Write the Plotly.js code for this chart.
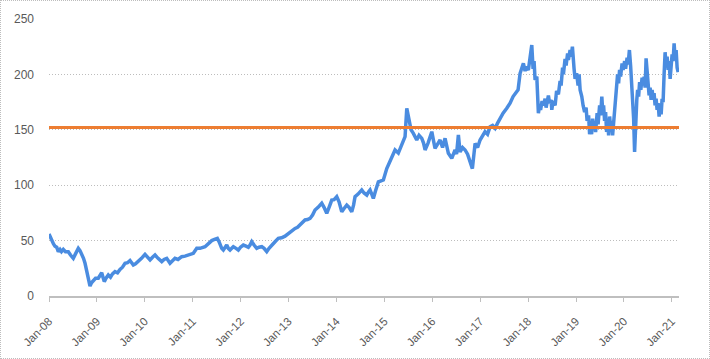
<!DOCTYPE html>
<html>
<head>
<meta charset="utf-8">
<script src="https://cdn.plot.ly/plotly-3.0.1.min.js"></script>
<style>
  html, body { margin: 0; padding: 0; background: #fff; }
  #wrap { position: relative; width: 710px; height: 359px; }
  #chart { position: absolute; left: 0; top: 0; width: 710px; height: 359px; }
  #frame { position: absolute; left: 0; top: 0; width: 710px; height: 359px; box-sizing: border-box; border: 1px dotted #bdbdbd; pointer-events: none; }
</style>
</head>
<body>
<div id="wrap"><div id="chart"></div><div id="frame"></div></div>
<script>
// Time in decimal years (2008.0 = Jan-08)
const years = [
 2008.000,2008.031,2008.056,2008.094,2008.125,2008.161,2008.194,2008.230,2008.261,2008.299,
 2008.344,2008.403,2008.449,2008.507,2008.553,2008.612,2008.647,2008.683,2008.720,2008.752,
 2008.783,2008.808,2008.835,2008.856,2008.887,2008.925,2008.971,2009.029,2009.065,2009.100,
 2009.127,2009.154,2009.190,2009.238,2009.284,2009.326,2009.378,2009.430,2009.482,2009.534,
 2009.587,2009.639,2009.691,2009.727,2009.760,2009.806,2009.864,2009.931,2010.004,2010.056,
 2010.109,2010.161,2010.213,2010.276,2010.353,2010.401,2010.457,2010.526,2010.578,2010.630,
 2010.693,2010.770,2010.839,2010.908,2010.965,2011.013,2011.084,2011.152,2011.257,2011.319,
 2011.397,2011.455,2011.514,2011.549,2011.570,2011.605,2011.639,2011.674,2011.710,2011.743,
 2011.779,2011.814,2011.848,2011.904,2011.952,2011.998,2012.056,2012.113,2012.161,2012.196,
 2012.232,2012.280,2012.336,2012.384,2012.441,2012.489,2012.545,2012.593,2012.649,2012.718,
 2012.787,2012.854,2012.927,2013.031,2013.084,2013.136,2013.188,2013.240,2013.292,2013.344,
 2013.397,2013.449,2013.501,2013.553,2013.616,2013.693,2013.741,2013.797,2013.846,2013.902,
 2013.950,2014.006,2014.054,2014.111,2014.159,2014.215,2014.263,2014.319,2014.357,2014.388,
 2014.451,2014.528,2014.576,2014.633,2014.670,2014.701,2014.737,2014.770,2014.816,2014.875,
 2014.931,2014.979,2015.050,2015.104,2015.154,2015.223,2015.292,2015.363,2015.432,2015.468,
 2015.522,2015.557,2015.605,2015.676,2015.724,2015.781,2015.818,2015.850,2015.912,2015.990,
 2016.027,2016.058,2016.111,2016.163,2016.215,2016.267,2016.336,2016.407,2016.476,2016.507,
 2016.545,2016.580,2016.633,2016.685,2016.737,2016.789,2016.837,2016.894,2016.946,2016.998,
 2017.050,2017.102,2017.154,2017.207,2017.259,2017.311,2017.363,2017.415,2017.478,2017.555,
 2017.624,2017.687,2017.749,
 2017.791,2017.833,2017.875,2017.902,2017.937,2017.958,2018.006,2018.042,2018.077,2018.104,
 2018.125,2018.146,2018.182,2018.198,2018.215,2018.240,2018.261,2018.292,2018.319,2018.355,
 2018.376,2018.424,2018.449,2018.480,2018.495,2018.522,2018.564,2018.595,2018.633,2018.668,
 2018.689,2018.720,2018.737,2018.772,2018.793,2018.825,2018.841,2018.877,2018.898,2018.925,
 2018.939,2018.960,2018.981,2019.013,2019.044,2019.065,2019.086,2019.121,2019.148,2019.180,
 2019.211,2019.232,2019.263,2019.284,2019.305,2019.326,2019.347,2019.368,2019.388,2019.409,
 2019.441,2019.461,2019.493,2019.514,2019.539,2019.556,2019.576,2019.597,2019.618,2019.639,
 2019.660,2019.681,2019.702,2019.722,2019.743,2019.764,2019.785,2019.806,2019.827,2019.852,
 2019.868,2019.889,2019.910,2019.931,2019.962,2019.983,2020.015,2020.035,2020.067,2020.088,
 2020.115,2020.140,2020.161,2020.182,2020.203,2020.223,2020.244,2020.269,2020.286,2020.307,
 2020.328,2020.353,2020.380,2020.401,2020.422,2020.443,2020.463,2020.484,2020.505,2020.526,
 2020.547,2020.568,2020.589,2020.610,2020.630,2020.651,2020.672,2020.693,2020.714,2020.735,
 2020.756,2020.777,2020.797,2020.818,2020.839,2020.860,2020.881,2020.902,2020.923,2020.944,
 2020.965,2020.985,2021.006,2021.027,2021.048,2021.069,2021.090,2021.111,2021.132
];
const prices = [
 56,53,49,47,45,44,40,42,40,42,
 40,40,37,34,38,43,41,38,34,29.5,
 24,19,13,9,12,14.4,16,16,18,21,
 17,13,16,19,17,20,22,21,24,26,
 29.5,30,32,30,28,29,31,34,37.6,35,
 32.5,35,37,34,31,33,34,29.5,32,34,
 33,35.5,36,37,37,38.5,43,43,44.5,47,
 50,51,52,49,46,43,41.5,44,46,43,
 41.5,43,44.5,43,41.5,44,46,45,44,46,
 49,46,43,44,44.5,43,40,43,46,49,
 52,52.5,54,58,59,61,62,64,66,68.6,
 69,70,73,77.6,80,83.7,80,74.6,80,86.6,
 87,89.6,85,76,79,82,80,76,82,89.6,
 92,95.7,93,91,94,95.7,92,88,95,103,
 104,104.7,115,120,124,131.8,129,136,143.8,169.4,
 155.9,150,146.8,140.8,145,142.3,138,131.8,138,148.3,
 140,133.3,137,140.8,134,142.3,128.8,124.3,131.8,128,
 145.3,130,134,131.8,128,121.2,115,137.8,134,140.8,
 144,148.3,146,152.8,154,151.4,156,160.4,165,169.4,
 174,180,183,
 186,201,208,210,203,207,204,215,226.5,205,
 212,195,198,182,165,172,168,176,172,178,
 170,181,174,177,168,176,172,185,182,194,
 190,206,200,214,208,219,213,222,216,225,
 214,205,196,201,190,200,186,180,172,166,
 170,158,163,146,156,146,160,150,158,148,
 165,155,172,163,180,168,172,158,166,148,
 160,145,162,152,158,145,156,168,178,186,
 200,192,204,198,210,204,212,205,215,209,
 222,208,195,176,160,130,160,177,186,180,
 193,186,197,190,198,188,214.5,200,192,181,
 188,177,186,178,183,172,178,168,174,162,
 170,164,178,175,200,220,208,216,204,212,
 196,206,218,212,228,214,222,206,202
];
const benchmarkLevel = 152;
const tickYears = [2008,2009,2010,2011,2012,2013,2014,2015,2016,2017,2018,2019,2020,2021];
const tickLabels = ["Jan-08","Jan-09","Jan-10","Jan-11","Jan-12","Jan-13","Jan-14","Jan-15","Jan-16","Jan-17","Jan-18","Jan-19","Jan-20","Jan-21"];
const yTicks = [0, 50, 100, 150, 200, 250];
const xEnd = 2021.15;

const traces = [
  {
    x: years, y: prices, type: 'scatter', mode: 'lines',
    line: { color: '#4A8CE0', width: 3.5 },
    hoverinfo: 'skip'
  },
  {
    x: [tickYears[0], xEnd], y: [benchmarkLevel, benchmarkLevel],
    type: 'scatter', mode: 'lines',
    line: { color: '#ED7D31', width: 3 },
    hoverinfo: 'skip'
  }
];

const layout = {
  width: 710, height: 359,
  margin: { l: 49, r: 31, t: 19, b: 63 },
  paper_bgcolor: '#ffffff', plot_bgcolor: '#ffffff',
  showlegend: false,
  font: { family: 'Liberation Sans, Arial, sans-serif', color: '#595959', size: 12 },
  xaxis: {
    type: 'linear', range: [tickYears[0], xEnd],
    tickmode: 'array', tickvals: tickYears, ticktext: tickLabels,
    tickangle: -45, tickfont: { size: 11.5, color: '#595959' },
    showgrid: false, zeroline: false,
    showline: true, linecolor: '#bfbfbf', linewidth: 2,
    ticks: 'outside', ticklen: 4, tickcolor: '#bfbfbf', tickwidth: 1,
    ticklabelstandoff: 8
  },
  yaxis: {
    range: [0, 250], tickmode: 'array', tickvals: yTicks,
    tickfont: { size: 12, color: '#595959' },
    showgrid: true, gridcolor: '#bdbdbd', griddash: '1px,2px', gridwidth: 1,
    zeroline: false, showline: false, ticks: '', ticklabelstandoff: 14
  }
};

Plotly.newPlot('chart', traces, layout, { staticPlot: true, displayModeBar: false });
</script>
</body>
</html>
